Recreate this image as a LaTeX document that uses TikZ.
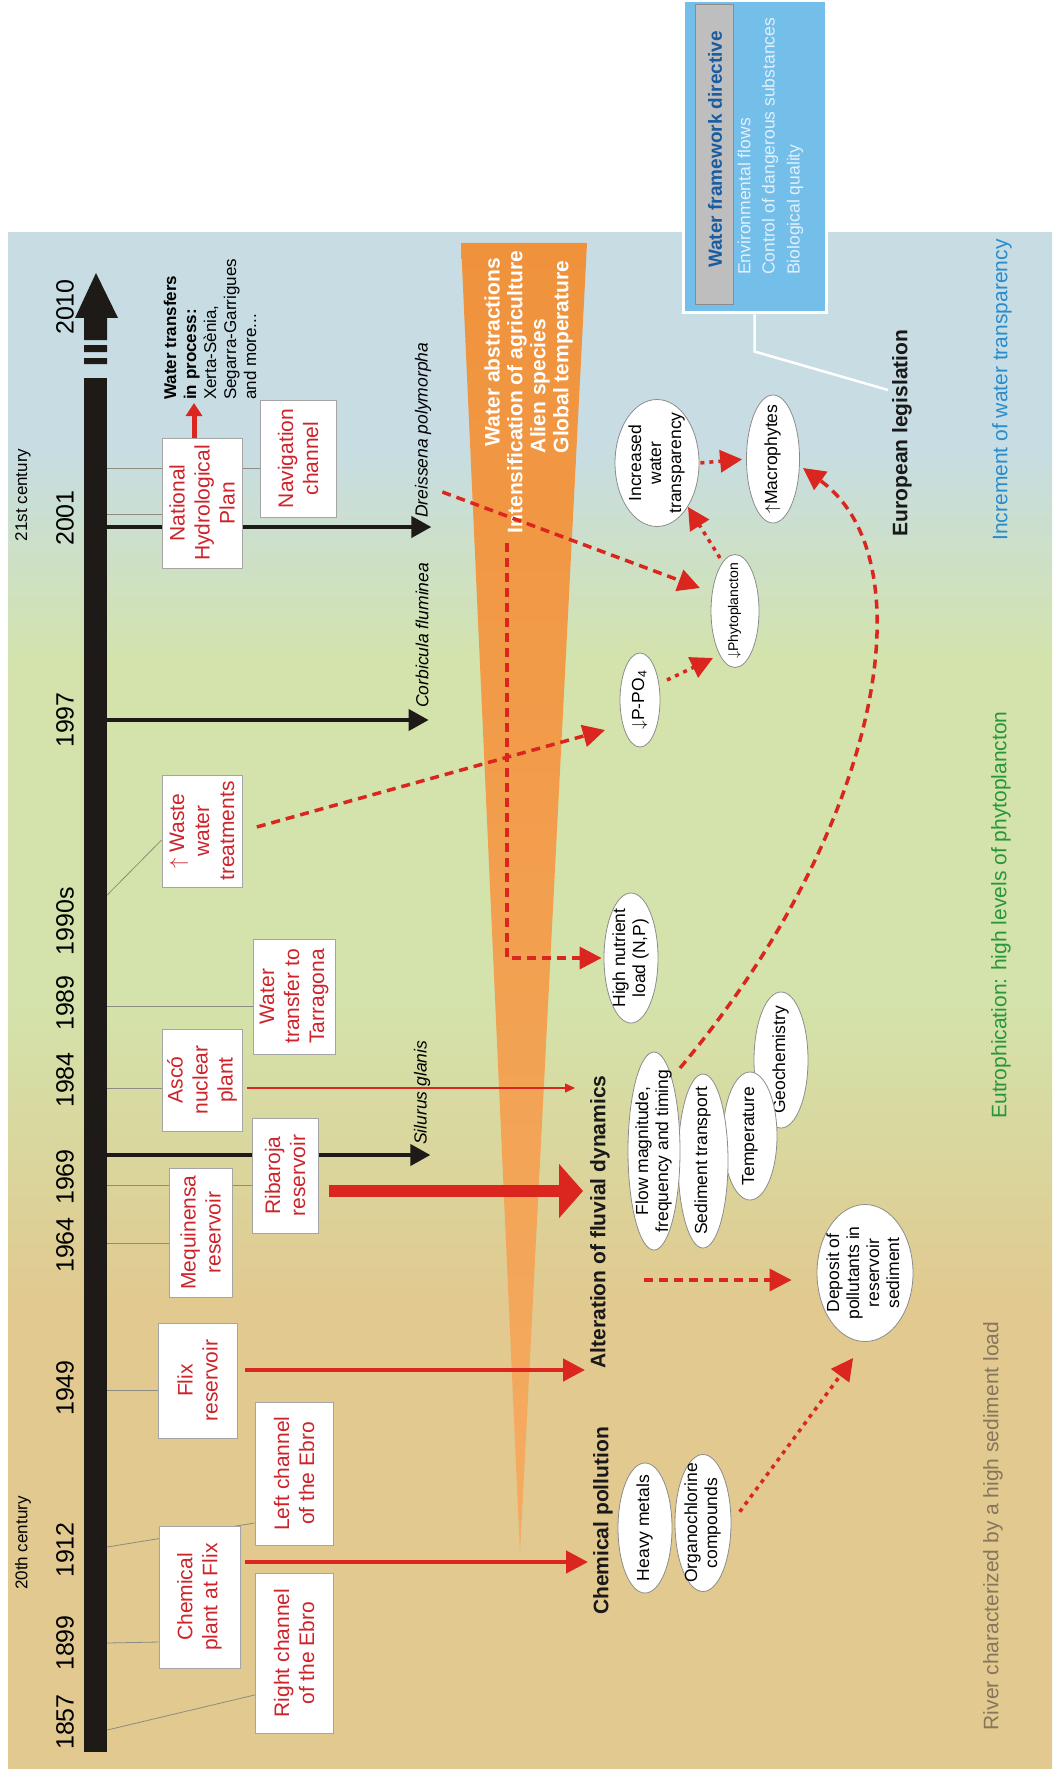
\documentclass[tikz,border=0pt]{standalone}
\usepackage{fontspec}
\setmainfont{Liberation Sans}
\usetikzlibrary{arrows.meta,shapes.geometric,calc}

\definecolor{bgblue}{RGB}{199,221,227}
\definecolor{bggreen}{RGB}{211,227,171}
\definecolor{bgtan}{RGB}{225,201,143}
\definecolor{orgtop}{RGB}{240,146,60}
\definecolor{orgbot}{RGB}{244,172,98}
\definecolor{tlblack}{RGB}{30,26,23}
\definecolor{boxred}{RGB}{205,35,42}
\definecolor{arrred}{RGB}{218,38,30}
\definecolor{boxgray}{RGB}{165,165,165}
\definecolor{tickgray}{RGB}{140,140,130}
\definecolor{bubgray}{RGB}{140,140,140}
\definecolor{wfdblue}{RGB}{116,190,234}
\definecolor{wfdgray}{RGB}{190,190,190}
\definecolor{wfdedge}{RGB}{140,140,140}
\definecolor{wfdnavy}{RGB}{25,92,160}
\definecolor{wfdtext}{RGB}{226,240,250}
\definecolor{transblue}{RGB}{40,140,205}
\definecolor{eutgreen}{RGB}{40,150,60}
\definecolor{sedbrown}{RGB}{135,118,92}

\pgfdeclareverticalshading{riverbg}{100bp}{color(0bp)=(bgtan); color(40bp)=(bgtan); color(50bp)=(bggreen); color(61bp)=(bggreen); color(68bp)=(bgblue); color(100bp)=(bgblue)}

\pgfdeclarelayer{bg}
\pgfdeclarelayer{back}
\pgfsetlayers{bg,back,main}

% text of an ellipse, kept out of the shape size
\newcommand{\bubtext}[1]{\makebox[0pt]{\raisebox{-.25em}[0pt][0pt]{\begin{tabular}{@{}c@{}}#1\end{tabular}}}}

\begin{document}
\begin{tikzpicture}[x=1pt,y=-1pt]
    \tikzstyle{yearlbl}=[rotate=90,inner sep=0,font=\fontsize{25}{28}\selectfont]
    \tikzstyle{cent}=[rotate=90,inner sep=0,font=\fontsize{17}{20}\selectfont]
    \tikzstyle{eventbox}=[rotate=90,draw=boxgray,fill=white,line width=0.8pt,text=boxred,align=center,inner sep=0,font=\fontsize{21}{25}\selectfont]
    \tikzstyle{tick}=[draw=tickgray,line width=0.8pt]
    \tikzstyle{bubble}=[rotate=90,ellipse,draw=bubgray,fill=white,line width=0.8pt,inner sep=0,font=\fontsize{17.5}{20}\selectfont]
    \tikzstyle{species}=[rotate=90,anchor=west,inner sep=0,font=\fontsize{17.5}{20}\selectfont\itshape]
    \tikzstyle{headline}=[rotate=90,inner sep=0,text=black!90,font=\fontsize{21}{25}\selectfont\bfseries]
    \tikzstyle{trend}=[rotate=90,inner sep=0,font=\fontsize{21}{25}\selectfont]
    \tikzstyle{orangetxt}=[rotate=90,inner sep=0,text=white,font=\fontsize{21}{25}\selectfont\bfseries]
    \tikzstyle{sparrow}=[line width=4pt,draw=tlblack,-{Triangle[length=20pt,width=21pt]}]
    \tikzstyle{redarrow}=[line width=4.5pt,draw=arrred,-{Triangle[length=22pt,width=22pt]}]
    \tikzstyle{bigred}=[line width=12pt,draw=arrred,-{Triangle[length=24pt,width=53pt]}]
    \tikzstyle{thinred}=[line width=1.5pt,draw=arrred,-{Triangle[length=10pt,width=9pt]}]
    \tikzstyle{redash}=[line width=3.5pt,draw=arrred,dash pattern=on 9pt off 6pt,-{Triangle[length=22pt,width=22pt]}]
    \tikzstyle{redot}=[line width=3.5pt,draw=arrred,dash pattern=on 4pt off 5pt,-{Triangle[length=22pt,width=22pt]}]

    \useasboundingbox (0,0) rectangle (1052,1776);

    % background and pressures wedge
    \begin{pgfonlayer}{bg}
        \shade[shading=riverbg] (8,233) rectangle (1052,1768);
        \shade[top color=orgtop,bottom color=orgbot] (461,243) -- (587,243) -- (520,1553) -- cycle;
    \end{pgfonlayer}

    % water framework directive
    \node[draw=white,line width=3pt,fill=wfdblue,minimum width=143pt,minimum height=312pt,inner sep=0] (wfd) at (754.5,157) {};
    \node[draw=wfdedge,line width=1pt,fill=wfdgray,minimum width=38pt,minimum height=300pt,inner sep=0] (wfdbar) at (714,155) {};
    \node[rotate=90,anchor=west,inner sep=0,text=wfdnavy,font=\fontsize{19}{22}\selectfont\bfseries] (wfdhead) at (715,268) {Water framework directive};
    \foreach \wx/\wt [count=\i] in {744/Environmental flows, 770/Control of dangerous substances, 795/Biological quality}
        \node[rotate=90,anchor=west,inner sep=0,text=wfdtext,font=\fontsize{17.5}{20}\selectfont] (wfd\i) at (\wx,275) {\wt};
    \node[headline] (eulaw) at (902,433) {European legislation};
    \draw[white,line width=2.5pt] (wfd.south) -- ++(0,37) -- ($(eulaw.north)+(-4,-43)$);

    % timeline
    \node[fill=tlblack,minimum width=23pt,minimum height=1374pt,inner sep=0] (bar) at (95.5,1065) {};
    \fill[tlblack] (75,318) -- (118,318) -- (96,273) -- cycle;
    \fill[tlblack] (84,318) rectangle (107,340) (84,345) rectangle (107,352) (84,358) rectangle (107,364);
    \foreach \yr/\yy in {1857/1722, 1899/1643, 1912/1550, 1949/1388, 1964/1245, 1969/1177, 1984/1080, 1989/1003, 1990s/921, 1997/720, 2001/518, 2010/307}
        \node[yearlbl] (y\yr) at (65,\yy) {\yr};
    \node[cent] (c20) at (23,1543) {20th century};
    \node[cent] (c21) at (23,495) {21st century};

    % events
    \node[eventbox,minimum width=160pt,minimum height=78pt] (rch) at (294,1653) {Right channel\\of the Ebro};
    \node[eventbox,minimum width=142pt,minimum height=81pt] (chem) at (199.5,1597) {Chemical\\plant at Flix};
    \node[eventbox,minimum width=143pt,minimum height=78pt] (lch) at (294,1473.5) {Left channel\\of the Ebro};
    \node[eventbox,minimum width=115pt,minimum height=79pt] (flix) at (197.5,1380.5) {Flix\\reservoir};
    \node[eventbox,minimum width=129pt,minimum height=63pt] (mequ) at (200.5,1232.5) {Mequinensa\\reservoir};
    \node[eventbox,minimum width=115pt,minimum height=66pt] (riba) at (285,1175.5) {Ribaroja\\reservoir};
    \node[eventbox,minimum width=102pt,minimum height=80pt] (asco) at (202,1080) {Ascó\\nuclear\\plant};
    \node[eventbox,minimum width=115pt,minimum height=82pt] (wtt) at (294,996.5) {Water\\transfer to\\Tarragona};
    \node[eventbox,minimum width=112pt,minimum height=80pt] (waste) at (202,831) {$\uparrow$ Waste\\water\\treatments};
    \node[eventbox,minimum width=130pt,minimum height=80pt] (nhp) at (202,503) {National\\Hydrological\\Plan};
    \node[eventbox,minimum width=117pt,minimum height=76pt] (nav) at (298,458.5) {Navigation\\channel};

    \node[rotate=90,anchor=west,align=left,inner sep=0,font=\fontsize{17}{20}\selectfont] (wtrans) at (210,400)
        {\textbf{Water transfers}\\\textbf{in process:}\\Xerta-Sènia,\\Segarra-Garrigues\\and more...};
    \draw[line width=5pt,draw=arrred,-{Triangle[length=13pt,width=16pt]},shorten >=3pt] ([xshift=-8pt]nhp.east) -- ([xshift=-8pt]nhp.east |- wtrans.west);

    % alien species
    \node[species] (dreis) at (423,518) {Dreissena polymorpha};
    \node[species] (corbi) at (422,708) {Corbicula fluminea};
    \node[species] (silur) at (422,1145) {Silurus glanis};

    \begin{pgfonlayer}{back}
        \foreach \ya/\bx/\yb in {1730/rch/1695, 1643/chem/1642, 1547/lch/1523, 1390/flix/1390, 1243/mequ/1243, 1185/riba/1185, 1088/asco/1088, 1006/wtt/1006, 895/waste/840, 514/nhp/514, 468/nav/468}
            \draw[tick] (bar.east |- 0,\ya) -- (\bx.north |- 0,\yb);
        \draw[sparrow] (bar.east |- 0,527) -- (dreis.south west |- 0,527);
        \draw[sparrow] (bar.east |- 0,720) -- (corbi.south west |- 0,720);
        \draw[sparrow] (bar.east |- 0,1155) -- (silur.south west |- 0,1155);
    \end{pgfonlayer}

    % pressures
    \foreach \ox/\oy/\ot [count=\i] in {492/352/Water abstractions, 517/392/Intensification of agriculture, 540/386/Alien species, 563/357/Global temperature}
        \node[orangetxt] (orn\i) at (\ox,\oy) {\ot};

    % effects
    \node[headline] (chempoll) at (603,1521) {Chemical pollution};
    \node[headline] (altfluv) at (600,1222) {Alteration of fluvial dynamics};

    \node[bubble,minimum width=130pt,minimum height=54pt] (heavy) at (645,1528) {\bubtext{Heavy metals}};
    \node[bubble,minimum width=137pt,minimum height=56pt] (organo) at (703,1523) {\bubtext{Organochlorine\\compounds}};
    \node[bubble,minimum width=137pt,minimum height=96pt] (deposit) at (865,1273) {\bubtext{Deposit of\\pollutants in\\reservoir\\sediment}};
    \node[bubble,minimum width=136pt,minimum height=54pt] (geo) at (781,1060) {\bubtext{Geochemistry}};
    \node[bubble,minimum width=128pt,minimum height=54pt] (temp) at (750,1136) {\bubtext{Temperature}};
    \node[bubble,minimum width=174pt,minimum height=50pt] (sedim) at (703,1161) {\bubtext{Sediment transport}};
    \node[bubble,minimum width=198pt,minimum height=52pt] (flow) at (654,1151) {\bubtext{Flow magnitude,\\frequency and timing}};
    \node[bubble,minimum width=130pt,minimum height=54pt] (nutr) at (631,958) {\bubtext{High nutrient\\load (N,P)}};
    \node[bubble,minimum width=94pt,minimum height=40pt] (ppo4) at (640,700) {\bubtext{$\downarrow$P-PO\textsubscript{4}}};
    \node[bubble,minimum width=113pt,minimum height=48pt,font=\fontsize{14}{16}\selectfont] (phyto) at (735,611) {\bubtext{$\downarrow$Phytoplancton}};
    \node[bubble,minimum width=127pt,minimum height=84pt] (incr) at (657,463) {\bubtext{Increased\\water\\transparency}};
    \node[bubble,minimum width=128pt,minimum height=53pt] (macro) at (773,459) {\bubtext{$\uparrow$Macrophytes}};

    % links
    \draw[redarrow,shorten <=5pt,shorten >=5pt] (chem.south |- 0,1562) -- (chempoll.north |- 0,1562);
    \draw[redarrow,shorten <=8pt,shorten >=5pt] (flix.south |- 0,1370) -- (altfluv.north |- 0,1370);
    \draw[bigred,shorten <=11pt,shorten >=7pt] (riba.south |- 0,1191) -- (altfluv.north |- 0,1191);
    \draw[thinred,shorten <=5pt,shorten >=15pt] (asco.south |- 0,1088) -- (altfluv.north |- 0,1088);
    \draw[redash,shorten <=34pt,shorten >=25pt] (altfluv.south |- 0,1280) -- (deposit.north |- 0,1280);
    \draw[redot,shorten <=14pt,shorten >=20pt] (organo.south) -- (deposit.west);
    \draw[redash,shorten <=10pt,shorten >=2pt] ([xshift=-10pt]orn2.west) |- (nutr.north);
    \draw[redash,shorten <=15pt] (waste.south) -- ([shift={(-35,30)}]ppo4.center);
    \draw[redash] ([shift={(11,-26)}]dreis.south west) -- ([shift={(-35,-23)}]phyto.center);
    \draw[redot] ([shift={(27,-20)}]ppo4.center) -- ([shift={(-22,47)}]phyto.center);
    \draw[redot] ([shift={(-15,-53)}]phyto.center) -- ([shift={(31,44)}]incr.center);
    \draw[redot,shorten <=1pt,shorten >=4pt] (incr.south) -- (macro.north);
    \draw[redash] ([shift={(26,-83)}]flow.center) .. controls (880,830) and (930,560) .. ([shift={(30,9)}]macro.center);

    % trends
    \node[trend,text=transblue] (trendA) at (1002,390) {Increment of water transparency};
    \node[trend,text=eutgreen] (trendB) at (1001,915) {Eutrophication: high levels of phytoplancton};
    \node[trend,text=sedbrown] (trendC) at (993,1526) {River characterized by a high sediment load};
\end{tikzpicture}
\end{document}
